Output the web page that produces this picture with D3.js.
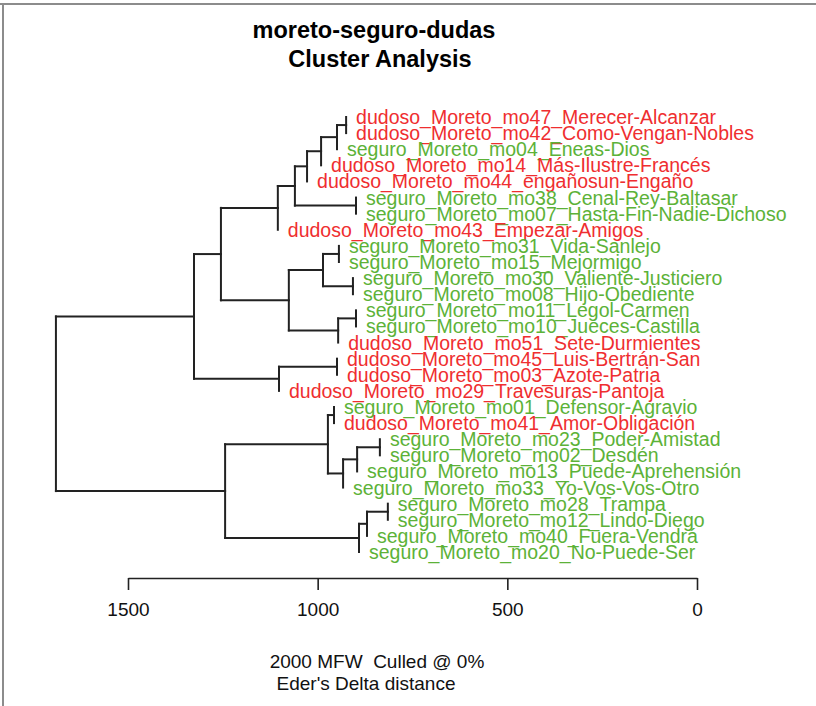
<!DOCTYPE html>
<html>
<head>
<meta charset="utf-8">
<script src="https://cdn.jsdelivr.net/npm/d3@7"></script>
<style>
  body { margin: 0; background: #ffffff; }
  svg { display: block; font-family: "Liberation Sans", Arial, Helvetica, sans-serif; }
</style>
</head>
<body>
<div id="chart"></div>
<script>
// leaves, top to bottom
const labels = [
    "dudoso_Moreto_mo47_Merecer-Alcanzar",
    "dudoso_Moreto_mo42_Como-Vengan-Nobles",
    "seguro_Moreto_mo04_Eneas-Dios",
    "dudoso_Moreto_mo14_Más-Ilustre-Francés",
    "dudoso_Moreto_mo44_engañosun-Engaño",
    "seguro_Moreto_mo38_Cenal-Rey-Baltasar",
    "seguro_Moreto_mo07_Hasta-Fin-Nadie-Dichoso",
    "dudoso_Moreto_mo43_Empezar-Amigos",
    "seguro_Moreto_mo31_Vida-Sanlejo",
    "seguro_Moreto_mo15_Mejormigo",
    "seguro_Moreto_mo30_Valiente-Justiciero",
    "seguro_Moreto_mo08_Hijo-Obediente",
    "seguro_Moreto_mo11_Legol-Carmen",
    "seguro_Moreto_mo10_Jueces-Castilla",
    "dudoso_Moreto_mo51_Sete-Durmientes",
    "dudoso_Moreto_mo45_Luis-Bertrán-San",
    "dudoso_Moreto_mo03_Azote-Patria",
    "dudoso_Moreto_mo29_Travesuras-Pantoja",
    "seguro_Moreto_mo01_Defensor-Agravio",
    "dudoso_Moreto_mo41_Amor-Obligación",
    "seguro_Moreto_mo23_Poder-Amistad",
    "seguro_Moreto_mo02_Desdén",
    "seguro_Moreto_mo13_Puede-Aprehensión",
    "seguro_Moreto_mo33_Yo-Vos-Vos-Otro",
    "seguro_Moreto_mo28_Trampa",
    "seguro_Moreto_mo12_Lindo-Diego",
    "seguro_Moreto_mo40_Fuera-Vendrá",
    "seguro_Moreto_mo20_No-Puede-Ser"
];

// hclust-style merge table: negative = leaf (1-based), positive = earlier merge
const merges = [
    [-1, -2], [1, -3], [2, -4], [3, -5], [-6, -7], [4, 5], [6, -8],
    [-9, -10], [-11, -12], [8, 9], [-13, -14], [11, -15], [10, 12], [7, 13],
    [-16, -17], [15, -18], [14, 16],
    [-19, -20], [-21, -22], [19, -23], [20, -24], [18, 21],
    [-25, -26], [23, -27], [24, -28], [22, 25],
    [17, 26]
];
const heights = [
    925, 949, 991, 1028, 899, 1060, 1105,
    944, 907, 986, 899, 946, 1076, 1255,
    949, 1102, 1326,
    957, 836, 896, 933, 973,
    815, 870, 891, 1244,
    1690
];

const axisTicks = [1500, 1000, 500, 0];
const titleLines = ["moreto-seguro-dudas", "Cluster Analysis"];
const subLines = ["2000 MFW  Culled @ 0%", "Eder's Delta distance"];

const colorOf = (lab) => lab.indexOf("dudoso") === 0 ? "#ef2e30" : "#5cb238";

const w = 816, h = 706;
const svg = d3.select("#chart").append("svg")
    .attr("width", w)
    .attr("height", h);

// frame edges (screenshot crop)
svg.append("line").attr("x1", 0).attr("x2", w).attr("y1", 4).attr("y2", 4)
    .attr("stroke", "#8c8c8c").attr("stroke-width", 2);
svg.append("line").attr("x1", 3).attr("x2", 3).attr("y1", 4).attr("y2", h)
    .attr("stroke", "#8c8c8c").attr("stroke-width", 2);

let x = d3.scaleLinear().domain([1500, 0]).range([128, 697]);
let y = d3.scaleLinear().domain([0, labels.length - 1]).range([117, 552]);

// layout
let nodeY = [];
let segs = [];
let tips = [];
for (let k = 0; k < merges.length; k++) {
    let px = x(heights[k]);
    let ys = merges[k].map(function(c) {
        if (c < 0) {
            let yy = y(-c - 1);
            tips.push({ i: -c - 1, x: px, y: yy });
            return yy;
        } else {
            let cy = nodeY[c - 1];
            segs.push([px, cy, x(heights[c - 1]), cy]);
            return cy;
        }
    });
    segs.push([px, d3.min(ys), px, d3.max(ys)]);
    nodeY[k] = d3.mean(ys);
}

svg.append("g").selectAll("line").data(segs).enter()
    .append("line")
    .attr("x1", d => d[0]).attr("y1", d => d[1])
    .attr("x2", d => d[2]).attr("y2", d => d[3])
    .attr("stroke", "#222222")
    .attr("stroke-width", 2)
    .attr("stroke-linecap", "square");

svg.append("g").selectAll("text").data(tips).enter()
    .append("text")
    .attr("x", d => d.x + 10)
    .attr("y", d => d.y + 7)
    .attr("font-size", 19.5)
    .attr("fill", d => colorOf(labels[d.i]))
    .text(d => labels[d.i]);

// title
svg.append("text").attr("x", 374).attr("y", 38)
    .attr("text-anchor", "middle").attr("font-weight", "bold").attr("font-size", 23.5)
    .attr("fill", "#000").text(titleLines[0]);
svg.append("text").attr("x", 380).attr("y", 67)
    .attr("text-anchor", "middle").attr("font-weight", "bold").attr("font-size", 23.5)
    .attr("fill", "#000").text(titleLines[1]);

// axis
let axis = svg.append("g")
    .attr("transform", "translate(0,578)")
    .call(d3.axisBottom(x).tickValues(axisTicks).tickFormat(d3.format("d"))
        .tickSize(12).tickSizeOuter(0).tickPadding(13));
axis.select(".domain").attr("stroke", "#222").attr("stroke-width", 1.6);
axis.selectAll(".tick line").attr("stroke", "#222").attr("stroke-width", 1.6);
axis.selectAll(".tick text")
    .attr("font-size", 19)
    .attr("font-family", "\"Liberation Sans\", Arial, sans-serif")
    .attr("fill", "#111");

svg.append("text").attr("x", 377).attr("y", 668)
    .attr("text-anchor", "middle").attr("font-size", 19).attr("fill", "#111")
    .style("white-space", "pre").text(subLines[0]);
svg.append("text").attr("x", 366).attr("y", 690)
    .attr("text-anchor", "middle").attr("font-size", 19).attr("fill", "#111")
    .text(subLines[1]);
</script>
</body>
</html>
